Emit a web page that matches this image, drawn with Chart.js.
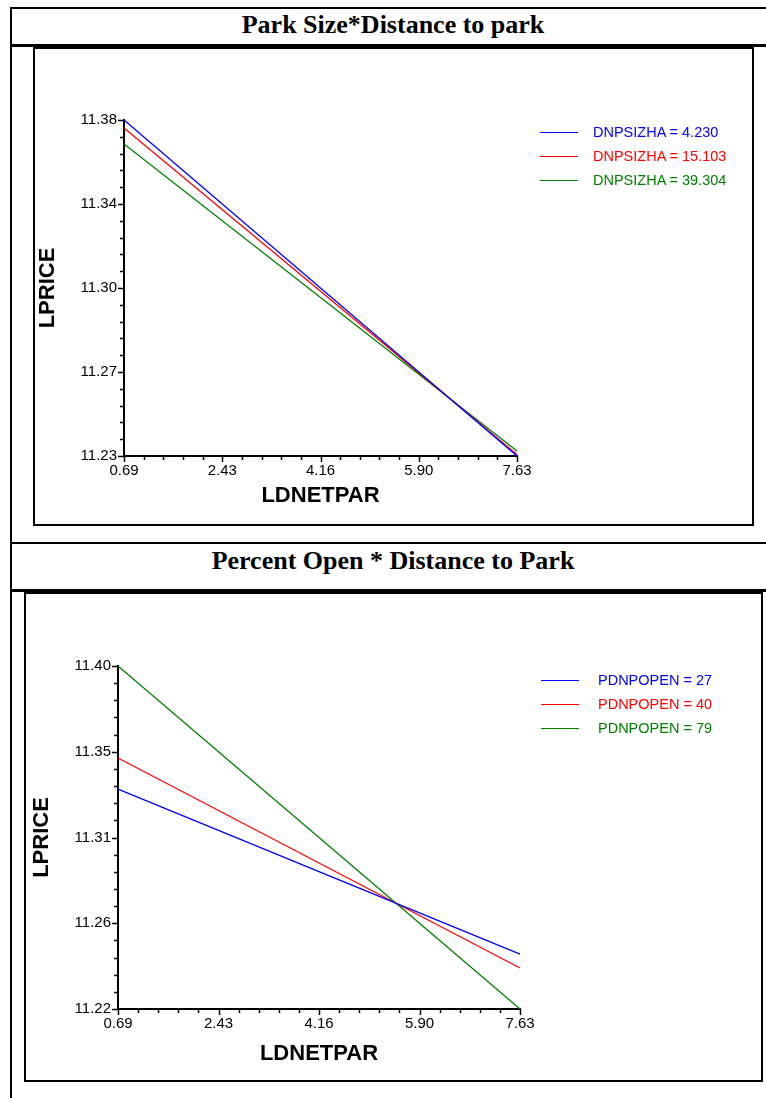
<!DOCTYPE html>
<html>
<head>
<meta charset="utf-8">
<script src="https://cdn.jsdelivr.net/npm/chart.js@4.4.1/dist/chart.umd.min.js"></script>
<style>
  body { margin: 0; background: #fff; width: 766px; height: 1098px; overflow: hidden; position: relative; }
  .rule { position: absolute; background: #000; }
  .title { position: absolute; left: 10px; width: 766px; text-align: center;
           font: bold 26px "Times New Roman", "Liberation Serif", serif; color: #000; }
  .box { position: absolute; border: 2px solid #000; box-sizing: border-box; }
  .box canvas { display: block; }
  .legend { position: absolute; font: 14.5px Arial, "Liberation Sans", sans-serif; }
  .legend div { position: relative; height: 24px; }
  .legend span.swatch { position: absolute; left: 0; top: 11px; width: 38px; height: 1.3px; }
  .legend span.txt { position: absolute; top: 3px; white-space: nowrap; }
</style>
</head>
<body>
<!-- table frame -->
<div class="rule" style="left:10px;top:7px;width:756px;height:2px"></div>
<div class="rule" style="left:10px;top:7px;width:2px;height:1091px"></div>
<div class="rule" style="left:10px;top:44px;width:756px;height:3px"></div>
<div class="rule" style="left:10px;top:542px;width:756px;height:2px"></div>
<div class="rule" style="left:10px;top:589px;width:756px;height:3px"></div>

<div class="title" style="top:10px">Park Size*Distance to park</div>
<div class="title" style="top:546px">Percent Open * Distance to Park</div>

<div class="box" style="left:33px;top:47px;width:721px;height:479px">
  <canvas id="sizeChart" width="717" height="475"></canvas>
</div>
<div class="box" style="left:24px;top:592px;width:739px;height:490px">
  <canvas id="openChart" width="735" height="486"></canvas>
</div>

<div class="legend" id="sizeLegend" style="left:540px;top:121px"></div>
<div class="legend" id="openLegend" style="left:541px;top:669px"></div>

<script>
// shared x values (LDNETPAR) and axis labels
const xValues = [0.69, 7.63];
const xTickLabels = ['0.69', '2.43', '4.16', '5.90', '7.63'];
const seriesColors = ['#0000ff', '#ff0000', '#008000'];

// Park Size * Distance to park
const sizeLabels = ['DNPSIZHA = 4.230', 'DNPSIZHA = 15.103', 'DNPSIZHA = 39.304'];
const size4230 = [11.3800, 11.2300];
const size15103 = [11.3764, 11.2307];
const size39304 = [11.3693, 11.2322];
const sizeYTicks = ['11.23', '11.27', '11.30', '11.34', '11.38'];

// Percent Open * Distance to Park
const openLabels = ['PDNPOPEN = 27', 'PDNPOPEN = 40', 'PDNPOPEN = 79'];
const open27 = [11.3354, 11.2488];
const open40 = [11.3517, 11.2415];
const open79 = [11.4000, 11.2200];
const openYTicks = ['11.22', '11.26', '11.31', '11.35', '11.40'];

Chart.defaults.font.family = 'Arial, "Liberation Sans", sans-serif';
Chart.defaults.color = '#000';

// major + minor tick marks drawn outward from the axis lines
const axisTicks = {
  id: 'axisTicks',
  afterDraw(chart) {
    const { ctx, chartArea, scales } = chart;
    ctx.save();
    ctx.strokeStyle = '#000';
    ctx.lineWidth = 1.5;
    const mark = (scale, v, len) => {
      const p = Math.round(scale.getPixelForValue(v)) + 0.5;
      ctx.beginPath();
      if (scale.isHorizontal()) {
        ctx.moveTo(p, chartArea.bottom);
        ctx.lineTo(p, chartArea.bottom + len);
      } else {
        ctx.moveTo(chartArea.left, p);
        ctx.lineTo(chartArea.left - len, p);
      }
      ctx.stroke();
    };
    [scales.x, scales.y].forEach(scale => {
      const vals = scale.ticks.map(t => t.value);
      vals.forEach((v, i) => {
        mark(scale, v, 6);
        if (i < vals.length - 1) {
          for (let k = 1; k < 5; k++) mark(scale, v + (vals[i + 1] - v) * k / 5, 4);
        }
      });
    });
    ctx.restore();
  }
};

function evenTicks(labels, min, max) {
  return scale => {
    scale.ticks = labels.map((l, i) => ({ value: min + i * (max - min) / (labels.length - 1) }));
  };
}

function makeChart(id, labels, series, yLabels, yMin, yMax, lay) {
  const xMin = xValues[0], xMax = xValues[xValues.length - 1];
  return new Chart(document.getElementById(id), {
    type: 'scatter',
    data: {
      datasets: series.map((s, i) => ({
        label: labels[i],
        data: xValues.map((x, j) => ({ x: x, y: s[j] })),
        showLine: true,
        borderColor: seriesColors[i],
        backgroundColor: seriesColors[i],
        borderWidth: 1.3,
        pointRadius: 0,
        clip: 4
      }))
    },
    options: {
      responsive: false,
      animation: false,
      devicePixelRatio: 1,
      layout: { padding: { left: 0, top: lay.top, right: lay.right, bottom: 0 } },
      plugins: { legend: { display: false }, tooltip: { enabled: false } },
      scales: {
        x: {
          type: 'linear', min: xMin, max: xMax,
          afterBuildTicks: evenTicks(xTickLabels, xMin, xMax),
          afterFit: s => { s.height = lay.xHeight; },
          grid: { display: false, drawTicks: false },
          border: { display: true, color: '#000', width: 2 },
          ticks: { callback: (v, i) => xTickLabels[i], padding: 6, maxRotation: 0,
                   font: { size: 15 }, color: '#000' },
          title: { display: true, text: 'LDNETPAR', font: { size: 22, weight: 'bold' },
                   padding: { top: 0, bottom: lay.xTitlePad }, color: '#000' }
        },
        y: {
          type: 'linear', min: yMin, max: yMax,
          afterBuildTicks: evenTicks(yLabels, yMin, yMax),
          afterFit: s => { s.width = lay.yWidth; },
          grid: { display: false, drawTicks: false },
          border: { display: true, color: '#000', width: 2 },
          ticks: { callback: (v, i) => yLabels[i], padding: 7, font: { size: 15 }, color: '#000' },
          title: { display: true, text: 'LPRICE', font: { size: 22, weight: 'bold' },
                   padding: { top: lay.yTitlePad, bottom: 0 }, color: '#000' }
        }
      }
    },
    plugins: [axisTicks]
  });
}

function buildLegend(id, labels) {
  const el = document.getElementById(id);
  labels.forEach((l, i) => {
    const row = document.createElement('div');
    row.innerHTML = '<span class="swatch" style="background:' + seriesColors[i] + '"></span>' +
      '<span class="txt" style="left:' + (id === 'sizeLegend' ? 53 : 57) + 'px;color:' + seriesColors[i] + '">' + l + '</span>';
    el.appendChild(row);
  });
}

makeChart('sizeChart', sizeLabels, [size4230, size15103, size39304], sizeYTicks, 11.23, 11.38,
  { top: 71, right: 235, xHeight: 68, xTitlePad: 15, yWidth: 89, yTitlePad: 0 });
makeChart('openChart', openLabels, [open27, open40, open79], openYTicks, 11.22, 11.40,
  { top: 72, right: 241, xHeight: 71, xTitlePad: 13, yWidth: 92, yTitlePad: 3 });

buildLegend('sizeLegend', sizeLabels);
buildLegend('openLegend', openLabels);
</script>
</body>
</html>
